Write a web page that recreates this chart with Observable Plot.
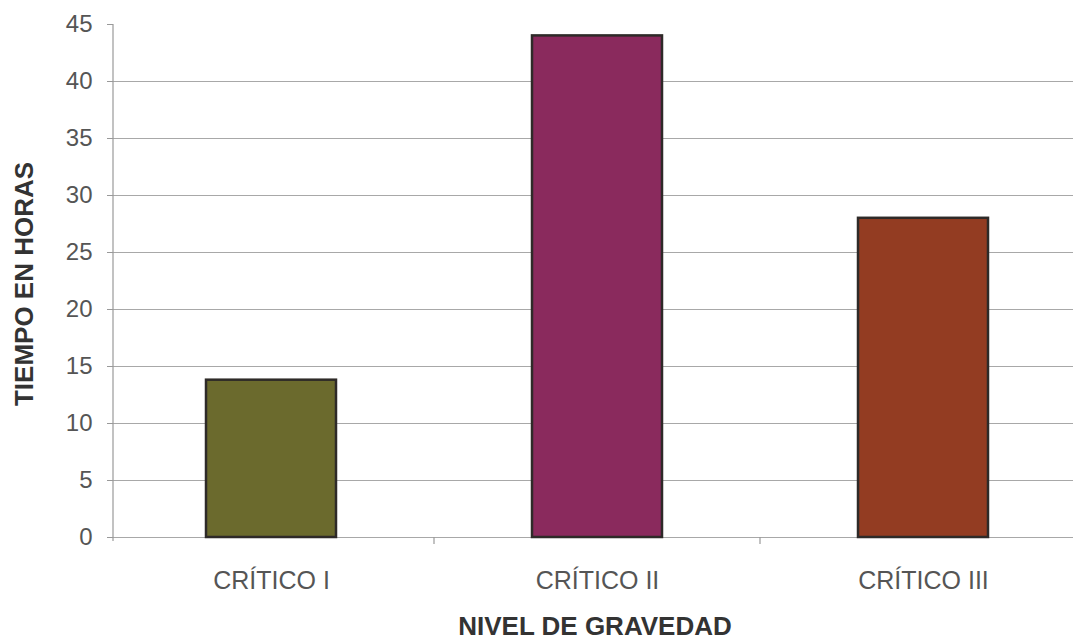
<!DOCTYPE html>
<html>
<head>
<meta charset="utf-8">
<script src="https://cdn.jsdelivr.net/npm/d3@7"></script>
<script src="https://cdn.jsdelivr.net/npm/@observablehq/plot@0.6"></script>
<style>
  html, body { margin: 0; padding: 0; background: #fff; }
  #chart svg { display: block; }
</style>
</head>
<body>
<div id="chart"></div>
<script>
// Tiempo de atención por nivel de gravedad
const niveles = ["CRÍTICO I", "CRÍTICO II", "CRÍTICO III"];
const horas = [13.8, 44, 28];
const colores = ["#6b6a2d", "#8a2a5d", "#933c22"];
const yTicks = [0, 5, 10, 15, 20, 25, 30, 35, 40, 45];
const gridTicks = [0, 5, 10, 15, 20, 25, 30, 35, 40];

const data = niveles.map((n, i) => ({nivel: n, horas: horas[i], color: colores[i]}));

const FONT = "'Liberation Sans', Arial, sans-serif";

const plot = Plot.plot({
  width: 1073,
  height: 644,
  marginLeft: 113,
  marginRight: 0,
  marginTop: 24,
  marginBottom: 107,
  style: {fontFamily: FONT, fontSize: "24px", color: "#555", background: "#fff"},
  x: {domain: niveles, range: [108, 1086], paddingInner: 0.6, paddingOuter: 0.3, label: null},
  y: {domain: [0, 45], ticks: yTicks, label: null},
  marks: [
    // líneas de cuadrícula horizontales
    Plot.ruleY(gridTicks, {stroke: "#a8a8a8", strokeWidth: 1.2}),
    Plot.barY(data, {x: "nivel", y: "horas", fill: "color", stroke: "#2e2a28", strokeWidth: 2.5}),
    Plot.axisY({ticks: yTicks, tickSize: 6, tickPadding: 15, fontSize: 24, fill: "#555", stroke: "#999", label: null}),
    Plot.axisX({tickSize: 0, tickPadding: 34, fontSize: 25, fill: "#555", label: null})
  ]
});

const svg = d3.select(plot);
const xs = plot.scale("x");
const ys = plot.scale("y");
const y0 = ys.apply(0), yTop = ys.apply(45);

// eje vertical
svg.append("line")
  .attr("x1", 113).attr("x2", 113)
  .attr("y1", yTop).attr("y2", y0 + 4)
  .attr("stroke", "#999").attr("stroke-width", 1.2);

// marcas de separación entre categorías en el eje horizontal
niveles.slice(1).forEach(n => {
  const xb = xs.apply(n) - (xs.step - xs.bandwidth) / 2;
  svg.append("line")
    .attr("x1", xb).attr("x2", xb)
    .attr("y1", y0).attr("y2", y0 + 7)
    .attr("stroke", "#999").attr("stroke-width", 1.2);
});

// títulos de ejes
svg.append("text")
  .attr("transform", "translate(26,284) rotate(-90)")
  .attr("text-anchor", "middle")
  .attr("dominant-baseline", "middle")
  .style("font", `bold 26px ${FONT}`)
  .attr("fill", "#333")
  .text("TIEMPO EN HORAS");
svg.append("text")
  .attr("x", 595).attr("y", 628)
  .attr("text-anchor", "middle")
  .attr("dominant-baseline", "middle")
  .style("font", `bold 26px ${FONT}`)
  .attr("fill", "#333")
  .text("NIVEL DE GRAVEDAD");

document.getElementById("chart").append(plot);
</script>
</body>
</html>
